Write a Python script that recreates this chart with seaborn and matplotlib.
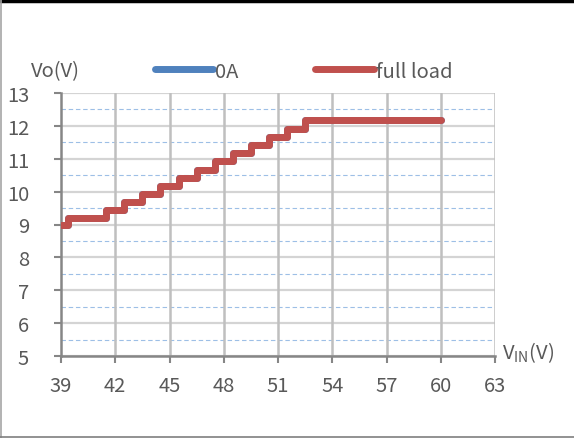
import numpy as np
import pandas as pd
import seaborn as sns
import matplotlib.pyplot as plt
from matplotlib.lines import Line2D

sns.set_theme(style="white")
plt.rcParams['font.family'] = ['Noto Sans CJK SC', 'DejaVu Sans']

# Output voltage versus input voltage (step transitions)
vin = [39.0, 39.4, 41.5, 42.5, 43.5, 44.5, 45.5, 46.5, 47.5, 48.5, 49.5, 50.5, 51.5, 52.5, 60.0]
vo_0a = [9.0, 9.2, 9.45, 9.68, 9.92, 10.17, 10.42, 10.66, 10.92, 11.17, 11.42, 11.67, 11.92, 12.18, 12.18]
vo_full = [9.0, 9.2, 9.45, 9.68, 9.92, 10.17, 10.42, 10.66, 10.92, 11.17, 11.42, 11.67, 11.92, 12.18, 12.18]
series_names = ["0A", "full load"]
series_colors = ["#4F81BD", "#C0504D"]
x_ticks = [39, 42, 45, 48, 51, 54, 57, 60, 63]
y_ticks = [5, 6, 7, 8, 9, 10, 11, 12, 13]

df = pd.DataFrame({"vin": vin, "0A": vo_0a, "full load": vo_full})

fig = plt.figure(figsize=(5.74, 4.39), dpi=100)
ax = fig.add_axes([61/574, 1 - 357/439, 434/574, 263/439])

text_color = "#595959"
fs = 14.5
lw = 5.0

# grid
for y in y_ticks:
    ax.axhline(y, color="#D4D4D4", lw=1.6, zorder=0)
for y in np.arange(5.5, 13, 1.0):
    ax.axhline(y, color="#9DBFE6", lw=0.8, ls=(0, (4, 2.5)), zorder=0)
for x in x_ticks[1:]:
    ax.axvline(x, color="#BFBFBF", lw=1.8, zorder=0)

sns.lineplot(data=df, x="vin", y="0A", ax=ax, color=series_colors[0], lw=lw,
             drawstyle="steps-post", estimator=None, sort=False,
             solid_capstyle="round", zorder=3)
sns.lineplot(data=df, x="vin", y="full load", ax=ax, color=series_colors[1], lw=lw,
             drawstyle="steps-post", estimator=None, sort=False,
             solid_capstyle="round", zorder=4)

ax.set_xlim(39, 63)
ax.set_ylim(5, 13)
ax.set_xticks(x_ticks)
ax.set_yticks(y_ticks)
ax.set_xlabel("")
ax.set_ylabel("")
ax.tick_params(axis="both", labelsize=fs, colors="#868686", labelcolor=text_color,
               length=5, width=1.5, direction="out")
ax.tick_params(axis="y", pad=18)
ax.tick_params(axis="x", pad=9)
ax.tick_params(left=True, bottom=True)

for side in ["top", "right"]:
    ax.spines[side].set_visible(False)
for side in ["left", "bottom"]:
    ax.spines[side].set_color("#868686")
    ax.spines[side].set_linewidth(1.8)

# axis titles
fig.text(31/574, 1 - 72/439, "Vo(V)", fontsize=fs, color=text_color, va="center", ha="left")
fig.text(502/574, 1 - 353/439, r"V$_{\mathregular{IN}}$(V)", fontsize=fs, color=text_color,
         va="center", ha="left")

# legend
handles = [Line2D([], [], color=c, lw=lw, solid_capstyle="round") for c in series_colors]
ax.legend(handles, series_names, ncol=2, loc="center left",
          bbox_to_anchor=(155/574, 1 - 72/439), bbox_transform=fig.transFigure,
          frameon=False, fontsize=fs, labelcolor=text_color, handlelength=2.9,
          handletextpad=0.1, columnspacing=3.8, borderpad=0, borderaxespad=0)

# figure frame
fig.add_artist(Line2D([0, 1], [1 - 1.5/439, 1 - 1.5/439], transform=fig.transFigure,
                      color="black", lw=2.5))
fig.add_artist(Line2D([0.5/574, 0.5/574], [0, 1], transform=fig.transFigure,
                      color="#A6A6A6", lw=1.2))
fig.add_artist(Line2D([0, 1], [1.5/439, 1.5/439], transform=fig.transFigure,
                      color="#7F7F7F", lw=1.2))

fig.savefig("out.png", dpi=100)
